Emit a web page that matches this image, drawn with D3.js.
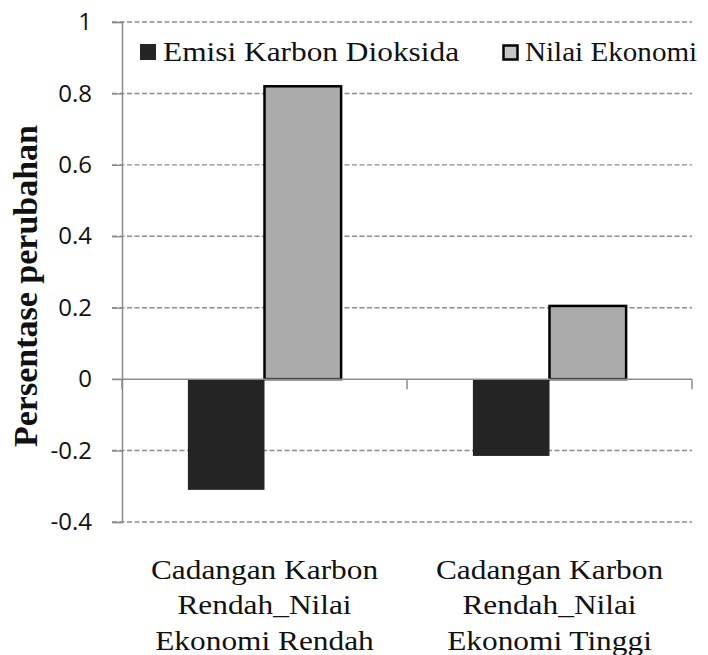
<!DOCTYPE html>
<html>
<head>
<meta charset="utf-8">
<script src="https://cdn.jsdelivr.net/npm/d3@7"></script>
<style>
	body { margin: 0; background: #fff; }
</style>
</head>
<body>
<div id="content"></div>
<script>
var categories = [
	["Cadangan Karbon", "Rendah_Nilai", "Ekonomi Rendah"],
	["Cadangan Karbon", "Rendah_Nilai", "Ekonomi Tinggi"]
];
var seriesNames = ["Emisi Karbon Dioksida", "Nilai Ekonomi"];
var emisiValues = [-0.31, -0.215];
var nilaiValues = [0.82, 0.205];
var yTicks = [-0.4, -0.2, 0, 0.2, 0.4, 0.6, 0.8, 1];

var SERIF = "'Liberation Serif', 'Times New Roman', serif";

function main() {
	var width = 708, height = 655;
	var svg = d3.select("#content").append("svg")
		.attr("width", width)
		.attr("height", height);

	// speckled grey texture for the second series
	var defs = svg.append("defs");
	var filt = defs.append("filter").attr("id", "noise")
		.attr("color-interpolation-filters", "sRGB")
		.attr("x", 0).attr("y", 0).attr("width", "100%").attr("height", "100%");
	filt.append("feTurbulence")
		.attr("type", "fractalNoise")
		.attr("baseFrequency", 1.0)
		.attr("numOctaves", 2)
		.attr("seed", 3)
		.attr("result", "t");
	filt.append("feColorMatrix")
		.attr("in", "t")
		.attr("type", "matrix")
		.attr("values", "1.4 0 0 0 -0.03  1.4 0 0 0 -0.03  1.4 0 0 0 -0.03  0 0 0 0 1");
	var pat = defs.append("pattern").attr("id", "speckle")
		.attr("patternUnits", "userSpaceOnUse")
		.attr("width", 120).attr("height", 120);
	pat.append("rect").attr("width", 120).attr("height", 120)
		.attr("filter", "url(#noise)");

	var left = 122, right = 692, top = 22, bottom = 522;

	var y = d3.scaleLinear().domain([-0.4, 1]).range([bottom, top]);
	var x0 = d3.scaleBand().domain(d3.range(categories.length)).range([left, right]);
	var x1 = d3.scaleBand().domain([0, 1]).range([0, x0.bandwidth()]).paddingOuter(0.86).paddingInner(0);

	// gridlines
	svg.append("g").selectAll("line")
		.data(yTicks.filter(function (d) { return d !== 0; }))
		.enter().append("line")
		.attr("x1", left - 10).attr("x2", right)
		.attr("y1", function (d) { return y(d); })
		.attr("y2", function (d) { return y(d); })
		.attr("stroke", "#8c8c8c")
		.attr("stroke-width", 1.4)
		.attr("stroke-dasharray", "5,2.5");

	// y axis
	var yAxis = svg.append("g")
		.attr("transform", "translate(" + left + ",0)")
		.call(d3.axisLeft(y).tickValues(yTicks).tickSize(10).tickPadding(20)
			.tickFormat(function (d) { return d === 0 ? "0" : String(+d.toFixed(1)); }));
	yAxis.select(".domain").attr("stroke", "#8c8c8c").attr("stroke-width", 1.5);
	yAxis.selectAll(".tick line").attr("stroke", "#8c8c8c").attr("stroke-width", 1.3);
	yAxis.selectAll("text")
		.style("font-family", "'Open Sans', sans-serif")
		.style("font-size", "24px")
		.attr("fill", "#111");

	// bars
	var groups = svg.append("g").selectAll("g")
		.data(categories)
		.enter().append("g")
		.attr("transform", function (d, i) { return "translate(" + x0(i) + ",0)"; });

	groups.append("rect")
		.attr("x", x1(0))
		.attr("width", x1.bandwidth())
		.attr("y", function (d, i) { return y(Math.max(0, emisiValues[i])); })
		.attr("height", function (d, i) { return Math.abs(y(emisiValues[i]) - y(0)); })
		.attr("fill", "#242424");

	groups.append("rect")
		.attr("x", x1(1))
		.attr("width", x1.bandwidth())
		.attr("y", function (d, i) { return y(Math.max(0, nilaiValues[i])); })
		.attr("height", function (d, i) { return Math.abs(y(nilaiValues[i]) - y(0)); })
		.attr("fill", "url(#speckle)")
		.attr("stroke", "#000")
		.attr("stroke-width", 2.5);

	// zero axis with category ticks
	var xAxis = svg.append("g")
		.attr("transform", "translate(0," + y(0) + ")");
	xAxis.append("line")
		.attr("x1", left - 10).attr("x2", right)
		.attr("stroke", "#8c8c8c").attr("stroke-width", 1.5);
	xAxis.selectAll(".ctick")
		.data(d3.range(categories.length + 1))
		.enter().append("line")
		.attr("class", "ctick")
		.attr("x1", function (d) { return left + d * x0.step(); })
		.attr("x2", function (d) { return left + d * x0.step(); })
		.attr("y1", 0).attr("y2", 10)
		.attr("stroke", "#8c8c8c").attr("stroke-width", 1.5);

	// category labels (source text is drawn slightly wide)
	svg.append("g").selectAll("text")
		.data(categories)
		.enter().append("text")
		.attr("transform", function (d, i) { return "translate(" + (x0(i) + x0.bandwidth() / 2) + ",579) scale(1.12,1)"; })
		.attr("text-anchor", "middle")
		.style("font-family", SERIF)
		.style("font-size", "28px")
		.attr("fill", "#111")
		.selectAll("tspan")
		.data(function (d) { return d; })
		.enter().append("tspan")
		.attr("x", 0)
		.attr("y", function (d, i) { return i * 35.5; })
		.text(function (d) { return d; });

	// y axis title
	svg.append("text")
		.attr("transform", "translate(37,286) rotate(-90)")
		.attr("text-anchor", "middle")
		.style("font-family", SERIF)
		.style("font-weight", "bold")
		.style("font-size", "34px")
		.attr("fill", "#111")
		.text("Persentase perubahan");

	// legend
	var legend = svg.append("g");
	var legendX = [140, 502];
	var legendStretch = [1.12, 1.04];
	legend.append("rect")
		.attr("x", legendX[0]).attr("y", 44)
		.attr("width", 16).attr("height", 16)
		.attr("fill", "#242424");
	legend.append("rect")
		.attr("x", legendX[1] + 1.5).attr("y", 45.5)
		.attr("width", 14).attr("height", 14)
		.attr("fill", "#c4c4c4")
		.attr("stroke", "#000").attr("stroke-width", 2.5);
	legend.selectAll("text")
		.data(seriesNames)
		.enter().append("text")
		.attr("transform", function (d, i) { return "translate(" + (legendX[i] + 23) + ",61) scale(" + legendStretch[i] + ",1)"; })
		.style("font-family", SERIF)
		.style("font-size", "28px")
		.attr("fill", "#111")
		.text(function (d) { return d; });
}

main();
</script>
</body>
</html>
